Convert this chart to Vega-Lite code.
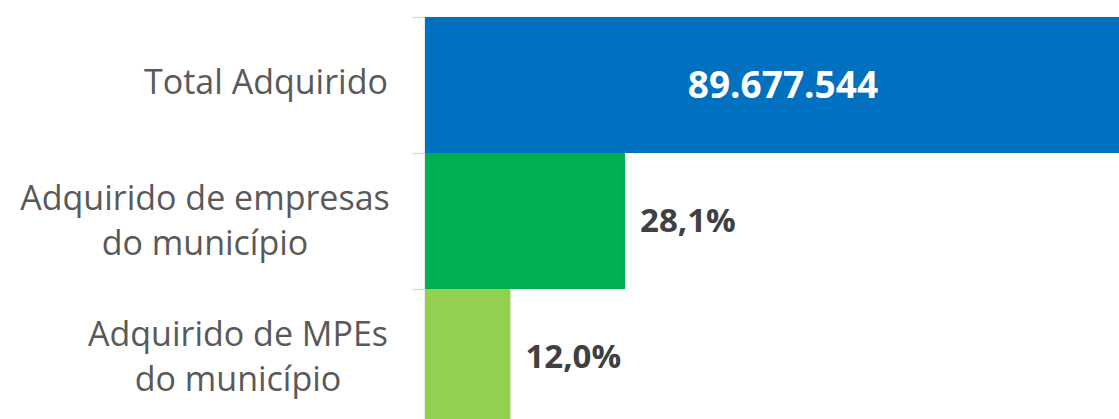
{
  "$schema": "https://vega.github.io/schema/vega-lite/v6.json",
  "autosize": {"type": "none"},
  "padding": {"left": 425, "top": 17, "right": 0, "bottom": 0},
  "width": 694,
  "height": 402,
  "background": "white",
  "config": {"view": {"stroke": null}},
  "data": {
    "values": [
      {"categoria": "Total Adquirido", "valor": 100, "rotulo": "89.677.544", "tipo": "total"},
      {"categoria": "Adquirido de empresas|do município", "valor": 28.1, "rotulo": "28,1%", "tipo": "parte"},
      {"categoria": "Adquirido de MPEs|do município", "valor": 12.0, "rotulo": "12,0%", "tipo": "parte"}
    ]
  },
  "encoding": {
    "y": {
      "field": "categoria",
      "type": "nominal",
      "sort": null,
      "scale": {"range": [0, 408], "paddingInner": 0, "paddingOuter": 0},
      "axis": {
        "title": null,
        "labels": false,
        "tickBand": "extent",
        "tickSize": 13,
        "tickColor": "#d9d9d9",
        "tickWidth": 1.5,
        "domainColor": "#d9d9d9",
        "domainWidth": 2,
        "grid": false
      }
    }
  },
  "layer": [
    {
      "mark": {"type": "bar", "clip": true},
      "encoding": {
        "x": {"field": "valor", "type": "quantitative", "scale": {"domain": [0, 97.5], "nice": false, "zero": true}, "axis": null},
        "color": {
          "field": "categoria",
          "type": "nominal",
          "sort": null,
          "scale": {"range": ["#0070C0", "#00B050", "#92D050"]},
          "legend": null
        }
      }
    },
    {
      "transform": [{"filter": "datum.tipo === 'total'"}, {"calculate": "datum.valor / 2", "as": "meio"}],
      "mark": {"type": "text", "font": "Open Sans", "fontWeight": "bold", "fontSize": 37, "color": "white", "align": "center", "baseline": "middle", "dx": 2, "dy": 2},
      "encoding": {
        "x": {"field": "meio", "type": "quantitative"},
        "text": {"field": "rotulo"}
      }
    },
    {
      "transform": [{"filter": "datum.tipo === 'parte'"}],
      "mark": {"type": "text", "font": "Open Sans", "fontWeight": "bold", "fontSize": 33, "color": "#404040", "align": "left", "baseline": "middle", "dx": 15, "dy": 1},
      "encoding": {
        "x": {"field": "valor", "type": "quantitative"},
        "text": {"field": "rotulo"}
      }
    },
    {
      "transform": [{"filter": "datum.categoria === 'Total Adquirido'"}],
      "mark": {"type": "text", "font": "Open Sans", "fontSize": 34, "color": "#595959", "align": "center", "baseline": "middle", "lineBreak": "|", "lineHeight": 45, "dx": -159, "dy": -1},
      "encoding": {
        "x": {"datum": 0, "type": "quantitative"},
        "text": {"field": "categoria"}
      }
    },
    {
      "transform": [{"filter": "datum.categoria === 'Adquirido de empresas|do município'"}],
      "mark": {"type": "text", "font": "Open Sans", "fontSize": 34, "color": "#595959", "align": "center", "baseline": "middle", "lineBreak": "|", "lineHeight": 45, "dx": -220, "dy": -21},
      "encoding": {
        "x": {"datum": 0, "type": "quantitative"},
        "text": {"field": "categoria"}
      }
    },
    {
      "transform": [{"filter": "datum.categoria === 'Adquirido de MPEs|do município'"}],
      "mark": {"type": "text", "font": "Open Sans", "fontSize": 34, "color": "#595959", "align": "center", "baseline": "middle", "lineBreak": "|", "lineHeight": 45, "dx": -187, "dy": -21},
      "encoding": {
        "x": {"datum": 0, "type": "quantitative"},
        "text": {"field": "categoria"}
      }
    }
  ]
}
